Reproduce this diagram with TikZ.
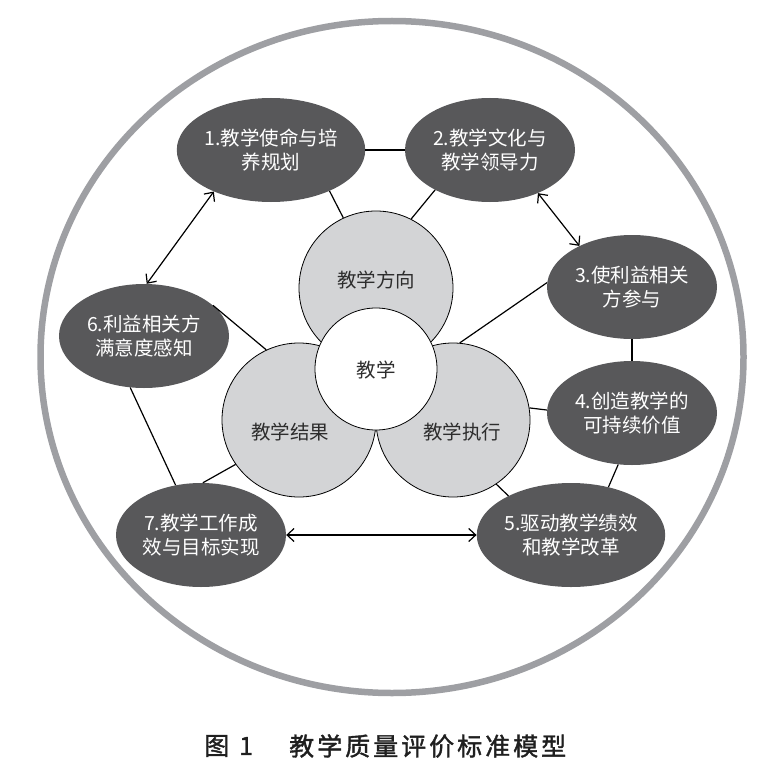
\documentclass[tikz,border=0pt]{standalone}
\usepackage{fontspec}
\newfontfamily\cjk{Noto Sans CJK SC}
\newfontfamily\cjkb{Noto Sans CJK SC}[FakeBold=1.5]
\usetikzlibrary{shapes.geometric,arrows.meta}
\definecolor{darkfill}{RGB}{88,88,90}
\definecolor{lightfill}{RGB}{211,212,214}
\definecolor{ringcol}{RGB}{158,159,163}
\definecolor{ctext}{RGB}{45,45,45}
\tikzset{
  darkell/.style={ellipse, fill=darkfill, minimum width=170pt, minimum height=104pt,
    inner sep=0pt, text=white, font=\cjk\fontsize{19.5}{24}\selectfont, align=center},
  graycirc/.style={circle, draw=black, line width=0.8pt, fill=lightfill,
    minimum size=154pt, inner sep=0pt},
  whitecirc/.style={circle, draw=black, line width=0.8pt, fill=white,
    minimum size=122pt, inner sep=0pt},
  circtext/.style={text=ctext, font=\cjk\fontsize{19.5}{24}\selectfont, inner sep=0pt},
  conn/.style={line width=1.2pt, black},
  biarrow/.style={conn, {Straight Barb[length=7pt,width=13pt]}-{Straight Barb[length=7pt,width=13pt]}},
  captext/.style={text=black!88, font=\cjkb\fontsize{25}{28}\selectfont, inner sep=0pt, anchor=west}
}
\begin{document}
\begin{tikzpicture}[x=1pt,y=-1pt]
\useasboundingbox (0,0) rectangle (777,781);
% outer ring
\draw[ringcol, line width=6.5pt] (392,357) ellipse [x radius=351.5, y radius=336];
% central circles
\node[graycirc] (tc) at (376,288) {};
\node[graycirc] (bl) at (299,420) {};
\node[graycirc] (br) at (453,420) {};
\node[whitecirc] (wc) at (376,369) {};
\node[circtext] (tct) at (376,280) {教学方向};
\node[circtext] (blt) at (290,432) {教学结果};
\node[circtext] (brt) at (462,432) {教学执行};
\node[circtext] (wct) at (376,370) {教学};
% dark ellipses
\node[darkell] (e1) at (271,150) {1.教学使命与培\\养规划};
\node[darkell] (e2) at (490,150) {2.教学文化与\\教学领导力};
\node[darkell] (e3) at (632,287) {3.使利益相关\\方参与};
\node[darkell] (e4) at (632,413) {4.创造教学的\\可持续价值};
\node[darkell] (e5) at (571,535) {5.驱动教学绩效\\和教学改革};
\node[darkell] (e6) at (144,336) {6.利益相关方\\满意度感知};
\node[darkell] (e7) at (201,535) {7.教学工作成\\效与目标实现};
% connectors
\draw[conn] (e1) -- (e2);
\draw[conn] (e1.-35) -- (tc.115);
\draw[conn] (e2.216) -- (tc.63);
\draw[biarrow] (e2.-42) -- (e3.142);
\draw[conn] (e3.177) -- (br.85);
\draw[conn] (e3.south) -- (e4.north);
\draw[conn] (br.9) -- (e4.178);
\draw[conn] (e4.-105) -- (e5.52);
\draw[conn] (br.-56) -- (e5.148);
\draw[biarrow] (e7) -- (e5);
\draw[conn] (e7.88) -- (bl.215);
\draw[conn] (e6.-105) -- (e7.117);
\draw[conn] (e6.24) -- (bl.115);
\draw[biarrow] (e1.216) -- (e6.87);
% caption
\node[captext] (capa) at (204,746) {图\hspace{10pt}1};
\node[captext] (capb) at (289,746) {\addfontfeatures{LetterSpace=12}教学质量评价标准模型};
\end{tikzpicture}
\end{document}
